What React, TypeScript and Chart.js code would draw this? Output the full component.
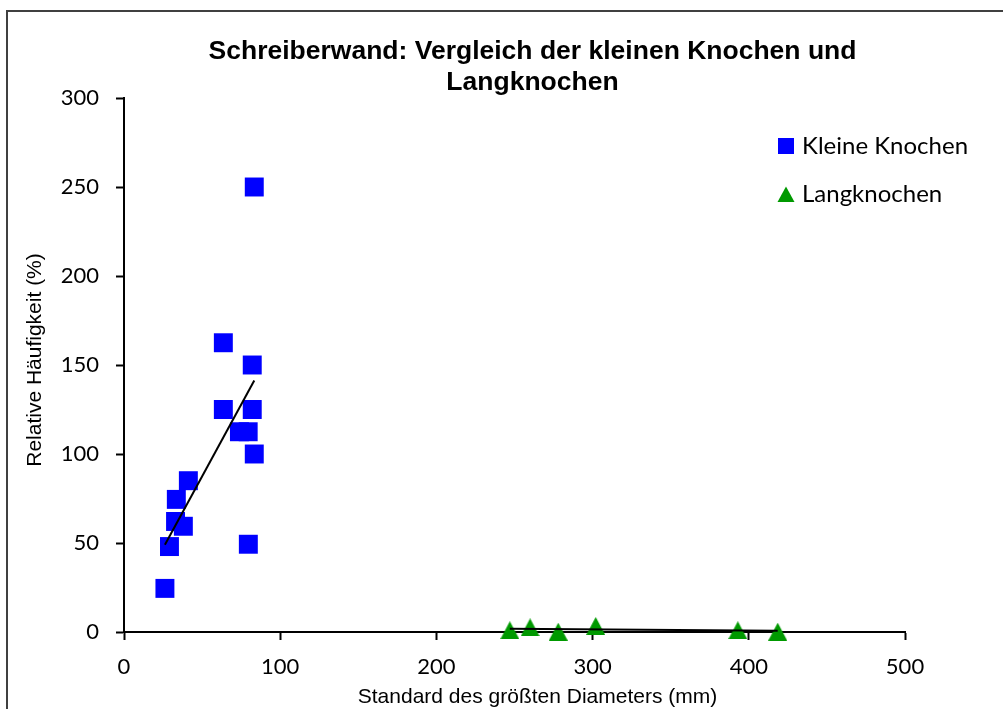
import React, { useEffect, useRef } from 'react';
import { Chart, registerables } from 'chart.js';

Chart.register(...registerables);

// ---- Texts ----
const chartTitle = ['Schreiberwand: Vergleich der kleinen Knochen und', 'Langknochen'];
const xAxisTitle = 'Standard des größten Diameters (mm)';
const yAxisTitle = 'Relative Häufigkeit (%)';
const seriesNames = ['Kleine Knochen', 'Langknochen'];

// ---- Data ----
const smallX = [83.4, 63.6, 82.1, 63.6, 82.1, 73.9, 79.5, 83.4, 41.2, 33.5, 33, 38, 29.1, 79.6, 26.2];
const smallY = [250, 162.5, 150, 125, 125, 112.5, 112.5, 100, 85, 74.5, 62.1, 59.4, 48, 49.3, 24.5];
const longX = [247, 260, 278, 302, 393, 418.5];
const longY = [1, 2.6, 0.2, 3.4, 1, 0.2];

// ---- Ticks ----
const xTicks = [0, 100, 200, 300, 400, 500];
const yTicks = [0, 50, 100, 150, 200, 250, 300];

const BLUE = '#0000FF';
const GREEN = '#009900';

function linearTrend(xs: number[], ys: number[]) {
  const n = xs.length;
  const mx = xs.reduce((a, b) => a + b, 0) / n;
  const my = ys.reduce((a, b) => a + b, 0) / n;
  let sxy = 0;
  let sxx = 0;
  for (let i = 0; i < n; i++) {
    sxy += (xs[i] - mx) * (ys[i] - my);
    sxx += (xs[i] - mx) * (xs[i] - mx);
  }
  const slope = sxy / sxx;
  const icpt = my - slope * mx;
  const x0 = Math.min(...xs);
  const x1 = Math.max(...xs);
  return [
    { x: x0, y: icpt + slope * x0 },
    { x: x1, y: icpt + slope * x1 },
  ];
}

function makeTriangle(w: number, h: number, color: string) {
  const c = document.createElement('canvas');
  c.width = w;
  c.height = h;
  const g = c.getContext('2d')!;
  g.fillStyle = color;
  g.beginPath();
  g.moveTo(w / 2, 0);
  g.lineTo(w, h);
  g.lineTo(0, h);
  g.closePath();
  g.fill();
  return c;
}

const TITLE_FONT = '"Liberation Sans", Arial, sans-serif';
const TICK_FONT = 'Lato, "Open Sans", sans-serif';

export default function App() {
  const ref = useRef<HTMLCanvasElement | null>(null);

  useEffect(() => {
    if (!ref.current) return;
    const tri = makeTriangle(19, 18, GREEN);

    const decor = {
      id: 'decor',
      afterDraw(chart: any) {
        const ctx = chart.ctx as CanvasRenderingContext2D;
        const area = chart.chartArea;
        ctx.save();
        ctx.fillStyle = '#000';
        // chart title
        ctx.font = `bold 26.5px ${TITLE_FONT}`;
        ctx.textAlign = 'center';
        ctx.textBaseline = 'alphabetic';
        chartTitle.forEach((t, i) => ctx.fillText(t, 532.5, 58.5 + i * 31));
        // x axis title
        ctx.font = `21px ${TITLE_FONT}`;
        ctx.fillText(xAxisTitle, 537.5, 703);
        // y axis title
        ctx.save();
        ctx.translate(35, (area.top + area.bottom) / 2 - 5);
        ctx.rotate(-Math.PI / 2);
        ctx.textBaseline = 'middle';
        ctx.fillText(yAxisTitle, 0, 0);
        ctx.restore();
        // legend
        ctx.font = `24px ${TICK_FONT}`;
        ctx.textAlign = 'left';
        ctx.textBaseline = 'alphabetic';
        ctx.fillStyle = BLUE;
        ctx.fillRect(778, 138, 16, 16);
        ctx.fillStyle = '#000';
        ctx.fillText(seriesNames[0], 802, 154);
        ctx.fillStyle = GREEN;
        ctx.beginPath();
        ctx.moveTo(786, 186.5);
        ctx.lineTo(794.5, 202);
        ctx.lineTo(777.5, 202);
        ctx.closePath();
        ctx.fill();
        ctx.fillStyle = '#000';
        ctx.fillText(seriesNames[1], 802, 202);
        ctx.restore();
      },
    };

    const axisCommon = {
      type: 'linear' as const,
      grid: {
        drawOnChartArea: false,
        drawTicks: true,
        tickLength: 8,
        tickColor: '#000',
        tickWidth: 2,
      },
      border: { display: true, color: '#000', width: 2 },
    };

    const chart = new Chart(ref.current, {
      type: 'scatter',
      data: {
        datasets: [
          {
            type: 'line',
            label: 'Trend ' + seriesNames[0],
            data: linearTrend(smallX, smallY),
            borderColor: '#000',
            borderWidth: 2,
            pointRadius: 0,
            fill: false,
            clip: false,
            order: 0,
          } as any,
          {
            type: 'line',
            label: 'Trend ' + seriesNames[1],
            data: linearTrend(longX, longY),
            borderColor: '#000',
            borderWidth: 2,
            pointRadius: 0,
            fill: false,
            clip: false,
            order: 0,
          } as any,
          {
            type: 'scatter',
            label: seriesNames[0],
            data: smallX.map((x, i) => ({ x, y: smallY[i] })),
            pointStyle: 'rect',
            pointRadius: 13.4,
            pointBackgroundColor: BLUE,
            pointBorderColor: BLUE,
            pointBorderWidth: 0,
            clip: false,
            order: 1,
          } as any,
          {
            type: 'scatter',
            label: seriesNames[1],
            data: longX.map((x, i) => ({ x, y: longY[i] })),
            pointStyle: tri as any,
            pointRadius: 10,
            pointBackgroundColor: GREEN,
            pointBorderWidth: 0,
            clip: false,
            order: 1,
          } as any,
        ],
      },
      options: {
        responsive: false,
        animation: false,
        devicePixelRatio: 1,
        layout: { padding: { top: 98, right: 98, left: 0, bottom: 0 } },
        plugins: {
          legend: { display: false },
          title: { display: false },
          tooltip: { enabled: false },
        },
        scales: {
          x: {
            ...axisCommon,
            min: xTicks[0],
            max: xTicks[xTicks.length - 1],
            afterBuildTicks: (s: any) => {
              s.ticks = xTicks.map((v) => ({ value: v }));
            },
            afterFit: (s: any) => {
              s.height = 77;
            },
            ticks: {
              color: '#000',
              padding: 14,
              maxRotation: 0,
              font: { family: TICK_FONT, size: 22 },
            },
          },
          y: {
            ...axisCommon,
            min: yTicks[0],
            max: yTicks[yTicks.length - 1],
            afterBuildTicks: (s: any) => {
              s.ticks = yTicks.map((v) => ({ value: v }));
            },
            afterFit: (s: any) => {
              s.width = 124;
            },
            ticks: {
              color: '#000',
              padding: 17,
              font: { family: TICK_FONT, size: 22 },
            },
          },
        },
      },
      plugins: [decor],
    });
    return () => chart.destroy();
  }, []);

  return (
    <div
      style={{
        position: 'absolute',
        left: 0,
        top: 0,
        width: 1003,
        height: 709,
        overflow: 'hidden',
        background: '#fff',
      }}
    >
      <div
        style={{
          position: 'absolute',
          left: 6,
          top: 10,
          width: 1100,
          height: 800,
          border: '2px solid #404040',
          boxSizing: 'border-box',
        }}
      />
      <canvas
        ref={ref}
        width={1003}
        height={709}
        style={{ position: 'absolute', left: 0, top: 0, width: 1003, height: 709 }}
      />
    </div>
  );
}
